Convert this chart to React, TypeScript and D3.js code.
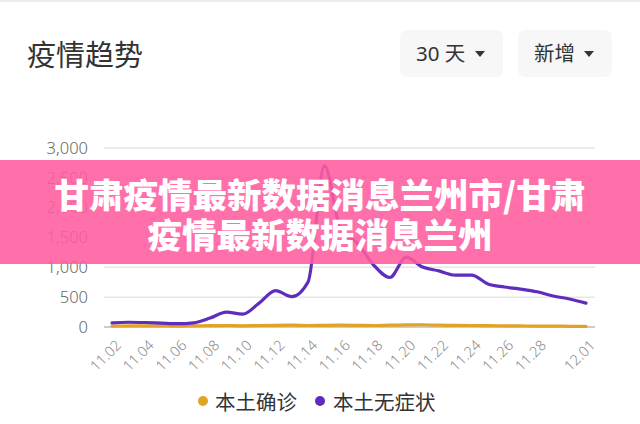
import React from "react";
import * as d3 from "d3";

const dates = ["11.02","11.03","11.04","11.05","11.06","11.07","11.08","11.09","11.10","11.11","11.12","11.13","11.14","11.15","11.16","11.17","11.18","11.19","11.20","11.21","11.22","11.23","11.24","11.25","11.26","11.27","11.28","11.29","11.30","12.01"];
const confirmed = [15,18,20,18,15,20,22,25,20,25,28,30,25,28,30,28,25,30,35,38,30,28,25,22,20,18,15,15,12,10];
const asymptomatic = [70,80,75,65,55,70,150,250,215,400,610,510,760,2700,1625,1410,1040,830,1170,1005,940,870,870,720,670,635,590,520,470,400];
const xTickLabels = ["11.02","11.04","11.06","11.08","11.10","11.12","11.14","11.16","11.18","11.20","11.22","11.24","11.26","11.28","12.01"];
const yTicks = [0,500,1000,1500,2000,2500,3000];
const legendItems = [
  { name: "本土确诊", color: "#e1a325" },
  { name: "本土无症状", color: "#5f2dbd" },
];
const title = "疫情趋势";
const buttons = ["30 天", "新增"];
const bannerLines = ["甘肃疫情最新数据消息兰州市/甘肃", "疫情最新数据消息兰州"];

const FONT = "'Noto Sans', 'Noto Sans CJK SC', sans-serif";
const CJK = "'Noto Sans CJK SC', sans-serif";

export default function App() {
  const W = 640, H = 424;
  const x = d3.scalePoint<string>().domain(dates).range([112, 586]);
  const y = d3.scaleLinear().domain([0, 3000]).range([327, 148]);
  const line = d3.line<number>()
    .x((_, i) => x(dates[i]) as number)
    .y((d) => y(d))
    .curve(d3.curveMonotoneX);
  const fmt = d3.format(",");
  const btnRects = [
    { x: 400, w: 103 },
    { x: 518, w: 94 },
  ];
  return (
    <svg width={W} height={H} style={{ position: "absolute", left: 0, top: 0, background: "#fff" }}>
      <rect x={0} y={0} width={W} height={H} fill="#fff" />
      <line x1={0} x2={W} y1={1} y2={1} stroke="#ececec" strokeWidth={2} />
      <text x={27} y={53} dominantBaseline="central" fontFamily={CJK} fontSize={29} fill="#333">{title}</text>
      {buttons.map((b, i) => (
        <g key={b}>
          <rect x={btnRects[i].x} y={30} width={btnRects[i].w} height={47} rx={7} fill="#f7f7f7" />
          <text x={btnRects[i].x + 16} y={53} dominantBaseline="central" fontFamily={FONT} fontSize={20.5} fill="#333">{b}</text>
          <path
            d={`M${btnRects[i].x + btnRects[i].w - 28},51 l10,0 l-5,6 z`}
            fill="#333"
          />
        </g>
      ))}
      {yTicks.map((t) => (
        <g key={t}>
          <line x1={104} x2={595} y1={y(t)} y2={y(t)} stroke={t === 0 ? "#9a9a9a" : "#e6e6e6"} strokeWidth={t === 0 ? 1.2 : 1.5} />
          <text x={88} y={y(t)} dy="0.35em" textAnchor="end" fontFamily={FONT} fontSize={16.5} fill="#666" fontWeight={300}>{fmt(t)}</text>
        </g>
      ))}
      {xTickLabels.map((l) => {
        const px = (x(l) as number) + 3;
        const py = 339;
        return (
          <text key={l} x={px} y={py} transform={`rotate(-45 ${px} ${py})`} textAnchor="end" dy="0.7em" fontFamily={FONT} fontSize={14.5} fill="#888" fontWeight={300}>{l}</text>
        );
      })}
      <path d={line(confirmed) || ""} fill="none" stroke={legendItems[0].color} strokeWidth={3.2} strokeLinejoin="round" strokeLinecap="round" />
      <path d={line(asymptomatic) || ""} fill="none" stroke={legendItems[1].color} strokeWidth={3.2} strokeLinejoin="round" strokeLinecap="round" />
      <g>
        <circle cx={203} cy={401} r={5} fill={legendItems[0].color} />
        <text x={215} y={401} dominantBaseline="central" fontFamily={CJK} fontSize={20.5} fill="#333">{legendItems[0].name}</text>
        <circle cx={320} cy={401} r={5} fill={legendItems[1].color} />
        <text x={333} y={401} dominantBaseline="central" fontFamily={CJK} fontSize={20.5} fill="#333">{legendItems[1].name}</text>
      </g>
      <rect x={0} y={160} width={W} height={104} fill="#ff5c9f" opacity={0.88} />
      {bannerLines.map((l, i) => (
        <text key={i} x={320} y={193 + i * 40} dominantBaseline="central" textAnchor="middle" fontFamily={CJK} fontWeight={900} fontSize={34.5} fill="#fff">{l}</text>
      ))}
    </svg>
  );
}
